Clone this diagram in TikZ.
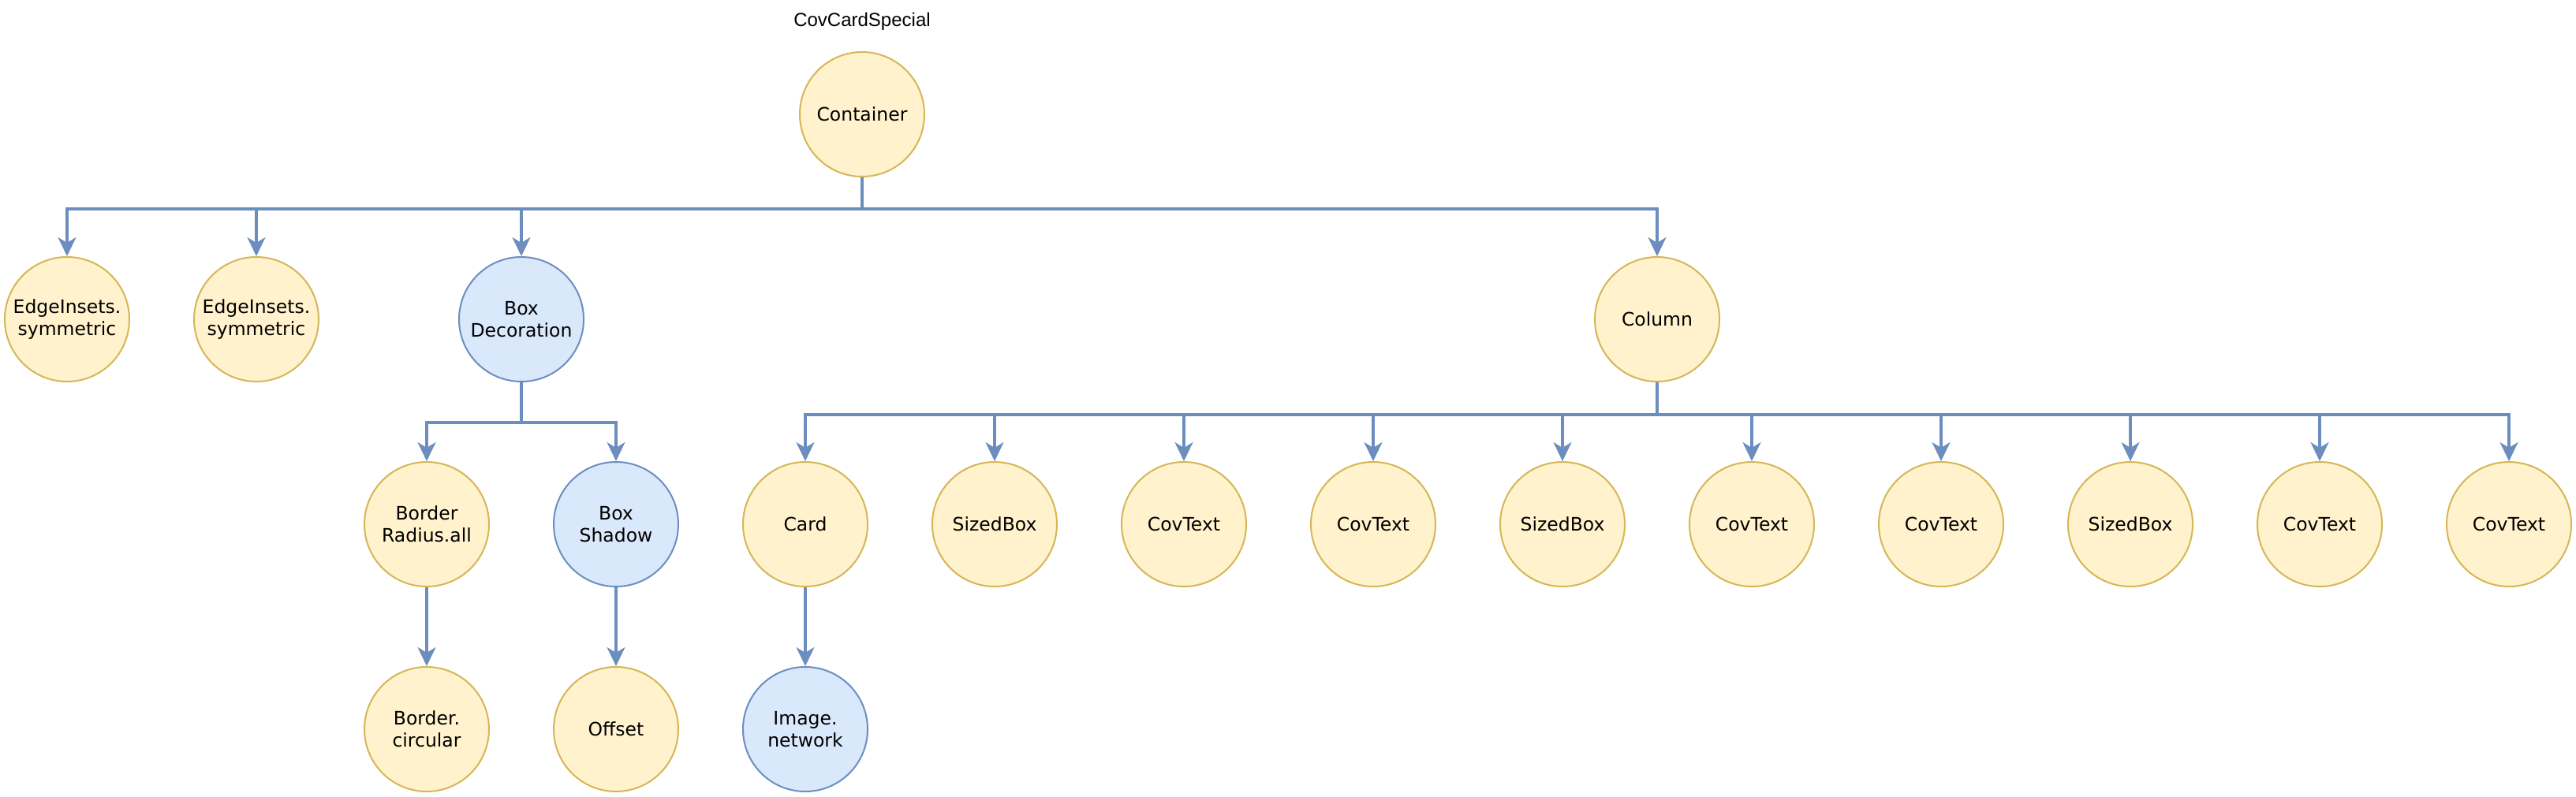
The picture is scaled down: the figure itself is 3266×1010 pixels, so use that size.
\documentclass[tikz,border=0pt]{standalone}
\usepackage{fontspec}
\setmainfont{DejaVu Sans}
\newfontfamily\titlefont{Liberation Sans}
\usetikzlibrary{arrows.meta}
\definecolor{yfill}{HTML}{FFF2CC}
\definecolor{ydraw}{HTML}{D6B656}
\definecolor{bfill}{HTML}{DAE8FC}
\definecolor{bdraw}{HTML}{6C8EBF}
\tikzset{
  base/.style={circle, minimum size=158pt, inner sep=0pt, line width=2pt, align=center,
    font=\fontsize{23.5}{28}\selectfont},
  ynode/.style={base, fill=yfill, draw=ydraw},
  bnode/.style={base, fill=bfill, draw=bdraw},
  edge/.style={draw=bdraw, line width=3.2pt,
    -{Stealth[length=24pt, width=23pt, inset=7pt]}},
}
\begin{document}
\begin{tikzpicture}[x=1pt,y=-1pt]
\useasboundingbox (0,0) rectangle (3266,1010);
\node[font=\titlefont\fontsize{24}{28}\selectfont, anchor=base] (title) at (1093,33.5) {CovCardSpecial};
\node[ynode] (cont) at (1093,145) {Container};
\node[ynode] (e1) at (85,405) {EdgeInsets.\\symmetric};
\node[ynode] (e2) at (325,405) {EdgeInsets.\\symmetric};
\node[bnode] (bd) at (661,405) {Box\\Decoration};
\node[ynode] (col) at (2101,405) {Column};
\node[ynode] (br) at (541,665) {Border\\Radius.all};
\node[bnode] (bs) at (781,665) {Box\\Shadow};
\node[ynode] (bc) at (541,925) {Border.\\circular};
\node[ynode] (off) at (781,925) {Offset};
\node[ynode] (c0) at (1021,665) {Card};
\node[ynode] (c1) at (1261,665) {SizedBox};
\node[ynode] (c2) at (1501,665) {CovText};
\node[ynode] (c3) at (1741,665) {CovText};
\node[ynode] (c4) at (1981,665) {SizedBox};
\node[ynode] (c5) at (2221,665) {CovText};
\node[ynode] (c6) at (2461,665) {CovText};
\node[ynode] (c7) at (2701,665) {SizedBox};
\node[ynode] (c8) at (2941,665) {CovText};
\node[ynode] (c9) at (3181,665) {CovText};
\node[bnode] (img) at (1021,925) {Image.\\network};
\foreach \t in {e1,e2,bd,col}
  \draw[edge] (cont.south) -- ++(0,40) -| (\t.north);
\foreach \t in {br,bs}
  \draw[edge] (bd.south) -- ++(0,51) -| (\t.north);
\foreach \t in {c0,c1,c2,c3,c4,c5,c6,c7,c8,c9}
  \draw[edge] (col.south) -- ++(0,41) -| (\t.north);
\draw[edge] (br) -- (bc);
\draw[edge] (bs) -- (off);
\draw[edge] (c0) -- (img);
\end{tikzpicture}
\end{document}
